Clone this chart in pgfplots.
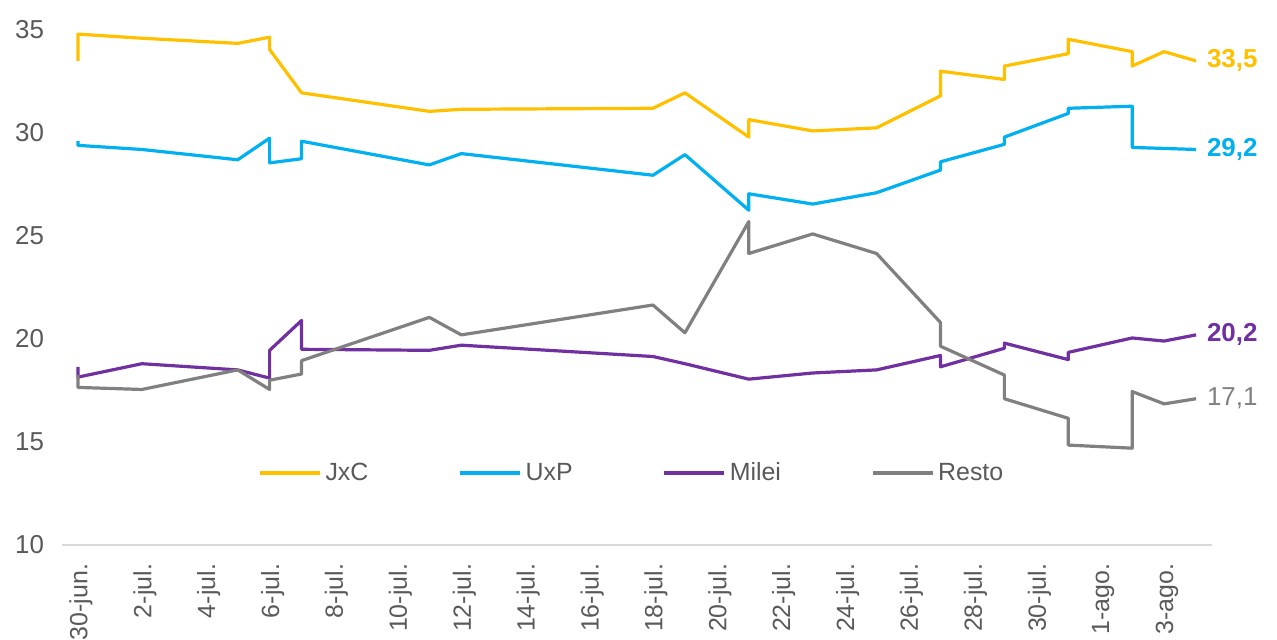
\documentclass[border=0pt]{standalone}
\usepackage{pgfplots}
\pgfplotsset{compat=1.18}
\usepackage{fontspec}
\setmainfont{Liberation Sans}

\definecolor{jxc}{HTML}{FFC000}
\definecolor{uxp}{HTML}{00B0F0}
\definecolor{milei}{HTML}{7030A0}
\definecolor{resto}{HTML}{808080}
\definecolor{labelgray}{HTML}{595959}
\definecolor{axisgray}{HTML}{D9D9D9}

\begin{document}
\begin{tikzpicture}
\useasboundingbox (0,0) rectangle (638.5bp,320bp);
\begin{axis}[
at={(31bp,47.5bp)},
anchor=south west,
width=575bp,
height=257.5bp,
scale only axis,
clip=false,
xmin=-0.5, xmax=35.5,
ymin=10, ymax=35,
ytick={10,15,...,35},
xtick={0,2,...,34},
xticklabels={30-jun.,2-jul.,4-jul.,6-jul.,8-jul.,10-jul.,12-jul.,14-jul.,16-jul.,18-jul.,20-jul.,22-jul.,24-jul.,26-jul.,28-jul.,30-jul.,1-ago.,3-ago.},
extra x ticks={-0.5,1.5,...,35.5},
extra x tick labels={},
extra x tick style={major tick length=4bp, tick style={draw=axisgray, line width=0.8bp}},
major tick length=0pt,
tick align=outside,
axis x line*=bottom,
axis y line*=left,
x axis line style={draw=axisgray, line width=0.8bp, -},
y axis line style={draw=none},
ytick style={draw=none},
xtick style={draw=none},
/pgf/number format/assume math mode=true,
ticklabel style={text=labelgray},
yticklabel style={font=\fontsize{13}{15}\selectfont, anchor=east, xshift=-5.5bp},
xticklabel style={font=\fontsize{12.5}{14}\selectfont, yshift=-6bp, xshift=1.5bp, rotate=90, anchor=east},
legend columns=4,
legend style={at={(0.1704,0.1398)}, anchor=west, draw=none, fill=none, inner sep=0pt,
  font=\fontsize{12.5}{14}\selectfont, text=labelgray,
  /tikz/every even column/.append style={column sep=43bp}},
legend image code/.code={\draw[#1] (0bp,0bp) -- (30bp,0bp);},
every axis plot/.append style={line width=1.6bp, line join=round},
]
\addplot [color=jxc] table {
0 33.5
0 34.8
2 34.6
5 34.35
6 34.65
6 34.05
7 31.95
11 31.05
12 31.15
18 31.2
19 31.95
21 29.8
21 30.65
23 30.1
25 30.25
27 31.8
27 33.0
29 32.6
29 33.25
31 33.85
31 34.55
33 33.95
33 33.25
34 33.95
35 33.5
};
\addlegendentry{JxC}

\addplot [color=uxp] table {
0 29.6
0 29.4
2 29.2
5 28.7
6 29.75
6 28.55
7 28.75
7 29.6
11 28.45
12 29.0
18 27.95
19 28.95
21 26.25
21 27.05
23 26.55
25 27.1
27 28.2
27 28.6
29 29.45
29 29.8
31 30.95
31 31.2
33 31.3
33 29.3
34 29.25
35 29.2
};
\addlegendentry{UxP}

\addplot [color=milei] table {
0 18.65
0 18.15
2 18.8
5 18.5
6 18.1
6 19.45
7 20.9
7 19.5
11 19.45
12 19.7
18 19.15
19 18.8
21 18.05
23 18.35
25 18.5
27 19.2
27 18.65
29 19.55
29 19.8
31 19.0
31 19.35
33 20.05
34 19.9
35 20.2
};
\addlegendentry{Milei}

\addplot [color=resto] table {
0 18.25
0 17.65
2 17.55
5 18.5
6 17.55
6 18.0
7 18.3
7 18.95
11 21.05
12 20.2
18 21.65
19 20.3
21 25.7
21 24.15
23 25.1
25 24.15
27 20.8
27 19.65
29 18.25
29 17.1
31 16.15
31 14.85
33 14.7
33 17.45
34 16.85
35 17.1
};
\addlegendentry{Resto}

\node[anchor=west, text=jxc, font=\fontsize{13}{15}\selectfont\bfseries, xshift=2bp] at (axis cs:35,33.5) {33,5};
\node[anchor=west, text=uxp, font=\fontsize{13}{15}\selectfont\bfseries, xshift=2bp] at (axis cs:35,29.2) {29,2};
\node[anchor=west, text=milei, font=\fontsize{13}{15}\selectfont\bfseries, xshift=2bp] at (axis cs:35,20.2) {20,2};
\node[anchor=west, text=resto, font=\fontsize{13}{15}\selectfont, xshift=2bp] at (axis cs:35,17.1) {17,1};
\end{axis}
\end{tikzpicture}
\end{document}
